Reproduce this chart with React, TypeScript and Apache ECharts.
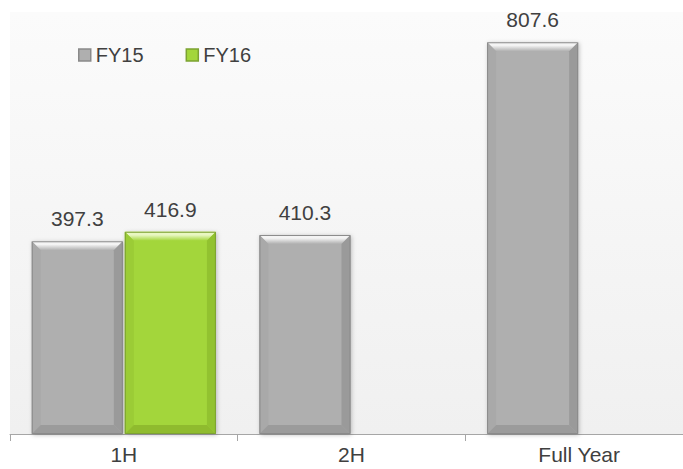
import React, { useEffect, useRef } from "react";
import * as echarts from "echarts";

const categories = ["1H", "2H", "Full Year"];
const fy15Values: (number | null)[] = [397.3, 410.3, 807.6];
const fy16Values: (number | null)[] = [416.9, null, null];
const seriesNames = ["FY15", "FY16"];

const FONT = "Liberation Sans, Arial, Helvetica, sans-serif";
const TEXT_COLOR = "#404040";

type Palette = {
  face: string;
  topHi: string;
  left: string;
  right: string;
  bottom: string;
  border: string;
};

const greyPalette: Palette = {
  face: "#afafaf",
  topHi: "#f4f4f4",
  left: "#a9a9a9",
  right: "#9a9a9a",
  bottom: "#9b9b9b",
  border: "#8a8a8a",
};

const greenPalette: Palette = {
  face: "#a3d63b",
  topHi: "#e9f7c2",
  left: "#9bcc36",
  right: "#92c230",
  bottom: "#8fbb2e",
  border: "#7ca232",
};

// Beveled bar drawn from the axis scale; side = -1 for the left bar of a group, +1 for the right one.
function makeRenderItem(side: number, pal: Palette) {
  return (params: any, api: any) => {
    const idx = api.value(0);
    const val = api.value(1);
    if (val == null || isNaN(val)) return null;
    const topPt = api.coord([idx, val]);
    const basePt = api.coord([idx, 0]);
    const band = api.size([1, 0])[0];
    const w = band * 0.4;
    const cx = topPt[0] + side * (w / 2 + 1);
    const x0 = cx - w / 2;
    const x1 = cx + w / 2;
    const y0 = topPt[1];
    const y1 = basePt[1];
    const b = Math.min(9, (y1 - y0) / 2);
    return {
      type: "group",
      children: [
        {
          type: "rect",
          shape: { x: x0, y: y0, width: w, height: y1 - y0 },
          style: {
            fill: pal.face,
            shadowBlur: 4,
            shadowColor: "rgba(0,0,0,0.25)",
            shadowOffsetX: 1,
            shadowOffsetY: 1,
          },
        },
        {
          type: "polygon",
          shape: { points: [[x0, y0], [x1, y0], [x1 - b, y0 + b], [x0 + b, y0 + b]] },
          style: {
            fill: new echarts.graphic.LinearGradient(0, 0, 0, 1, [
              { offset: 0, color: pal.topHi },
              { offset: 0.35, color: pal.topHi },
              { offset: 1, color: pal.face },
            ]),
          },
        },
        {
          type: "polygon",
          shape: { points: [[x0, y0], [x0 + b, y0 + b], [x0 + b, y1 - b], [x0, y1]] },
          style: { fill: pal.left },
        },
        {
          type: "polygon",
          shape: { points: [[x1, y0], [x1 - b, y0 + b], [x1 - b, y1 - b], [x1, y1]] },
          style: { fill: pal.right },
        },
        {
          type: "polygon",
          shape: { points: [[x0, y1], [x0 + b, y1 - b], [x1 - b, y1 - b], [x1, y1]] },
          style: { fill: pal.bottom },
        },
        {
          type: "rect",
          shape: { x: x0 + 0.5, y: y0 + 0.5, width: w - 1, height: y1 - y0 - 1 },
          style: { fill: "none", stroke: pal.border, lineWidth: 1 },
        },
        {
          type: "text",
          style: {
            text: String(val),
            x: cx,
            y: y0 - 12,
            align: "center",
            verticalAlign: "bottom",
            textAlign: "center",
            textVerticalAlign: "bottom",
            fill: TEXT_COLOR,
            font: `21px ${FONT}`,
          },
        },
      ],
    };
  };
}

export default function App() {
  const ref = useRef<HTMLDivElement>(null);

  useEffect(() => {
    if (!ref.current) return;
    const chart = echarts.init(ref.current, undefined, { renderer: "svg" });

    const fy15Data = categories
      .map((_, i) => (fy15Values[i] == null ? null : [i, fy15Values[i]]))
      .filter((d) => d !== null);
    const fy16Data = categories
      .map((_, i) => (fy16Values[i] == null ? null : [i, fy16Values[i]]))
      .filter((d) => d !== null);

    chart.setOption({
      animation: false,
      backgroundColor: "#ffffff",
      grid: {
        left: 10,
        top: 12,
        right: 10,
        bottom: 35,
        show: true,
        borderWidth: 0,
        backgroundColor: new echarts.graphic.LinearGradient(0, 0, 0, 1, [
          { offset: 0, color: "#fbfbfb" },
          { offset: 1, color: "#f0f0f0" },
        ]),
      },
      legend: {
        left: 73,
        top: 40,
        itemWidth: 12,
        itemHeight: 12,
        itemGap: 42,
        icon: "rect",
        textStyle: { color: TEXT_COLOR, fontSize: 20, fontFamily: FONT },
        data: [
          {
            name: seriesNames[0],
            itemStyle: { color: greyPalette.face, borderColor: greyPalette.border, borderWidth: 1.5 },
          },
          {
            name: seriesNames[1],
            itemStyle: { color: greenPalette.face, borderColor: greenPalette.border, borderWidth: 1.5 },
          },
        ],
      },
      xAxis: {
        type: "category",
        data: categories,
        boundaryGap: true,
        axisLine: { show: true, lineStyle: { color: "#a6a6a6", width: 1 } },
        axisTick: { show: true, length: 7, lineStyle: { color: "#a6a6a6" } },
        axisLabel: { color: TEXT_COLOR, fontSize: 21, fontFamily: FONT, margin: 10 },
        splitLine: { show: false },
      },
      yAxis: {
        type: "value",
        min: 0,
        max: 870,
        show: false,
        splitLine: { show: false },
      },
      series: [
        {
          name: seriesNames[0],
          type: "custom",
          itemStyle: { color: greyPalette.face },
          renderItem: makeRenderItem(-1, greyPalette),
          encode: { x: 0, y: 1 },
          data: fy15Data,
          clip: false,
        },
        {
          name: seriesNames[1],
          type: "custom",
          itemStyle: { color: greenPalette.face },
          renderItem: makeRenderItem(1, greenPalette),
          encode: { x: 0, y: 1 },
          data: fy16Data,
          clip: false,
        },
      ],
    });

    return () => chart.dispose();
  }, []);

  // The plot area runs past the right edge, so the chart is wider than its clipping frame.
  return (
    <div
      style={{
        position: "absolute",
        left: 0,
        top: 0,
        width: 683,
        height: 469,
        overflow: "hidden",
        background: "#ffffff",
      }}
    >
      <div ref={ref} style={{ width: 703, height: 469 }} />
    </div>
  );
}
